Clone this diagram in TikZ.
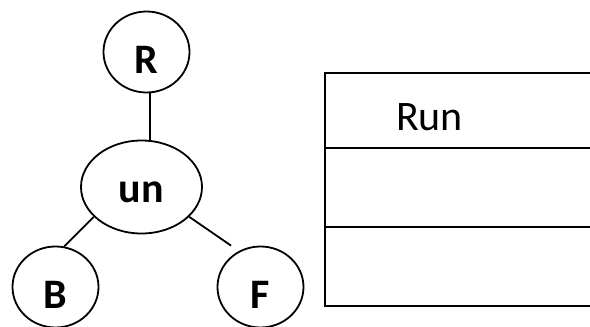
\documentclass[tikz,border=0pt]{standalone}
\usepackage{fontspec}
\setmainfont{Carlito}
\usetikzlibrary{shapes.geometric}
\begin{document}
\begin{tikzpicture}[x=1pt,y=-1pt,line width=1.8pt,
  vert/.style={draw,ellipse,minimum width=86pt,minimum height=81pt,inner sep=0pt,
    text height=43pt,text depth=0pt,font=\fontsize{42}{42}\selectfont\bfseries},
  mid/.style={draw,ellipse,minimum width=121pt,minimum height=93pt,inner sep=0pt,
    text height=31pt,text depth=0pt,font=\fontsize{42}{42}\selectfont\bfseries},
  edge/.style={line width=1.8pt}]
\useasboundingbox (0,0) rectangle (590,327);
\node[vert] (R) at (146.5,52) {R};
\node[mid] (un) at (141.5,187) {un};
\node[vert] (B) at (55.5,287) {B};
\node[vert] (F) at (260.5,287) {F};
\draw[edge] ([xshift=3.5pt]R.south) -- ([xshift=8.5pt]un.north);
\draw[edge] (un.212.6) -- (B.78);
\draw[edge,shorten >=9.5pt] (un.328.8) -- (F.121.6);
\coordinate (t1) at (325,73);
\coordinate (t2) at (590,73);
\coordinate (t3) at (325,148);
\coordinate (t4) at (590,148);
\coordinate (t5) at (325,227);
\coordinate (t6) at (590,227);
\coordinate (t7) at (325,306);
\coordinate (t8) at (590,306);
\draw (t2) -- (t1) -- (t7) -- (t8);
\draw (t3) -- (t4);
\draw (t5) -- (t6);
\node[font=\fontsize{42}{42}\selectfont,inner sep=0pt] (run) at (429.5,117.5) {Run};
\end{tikzpicture}
\end{document}
